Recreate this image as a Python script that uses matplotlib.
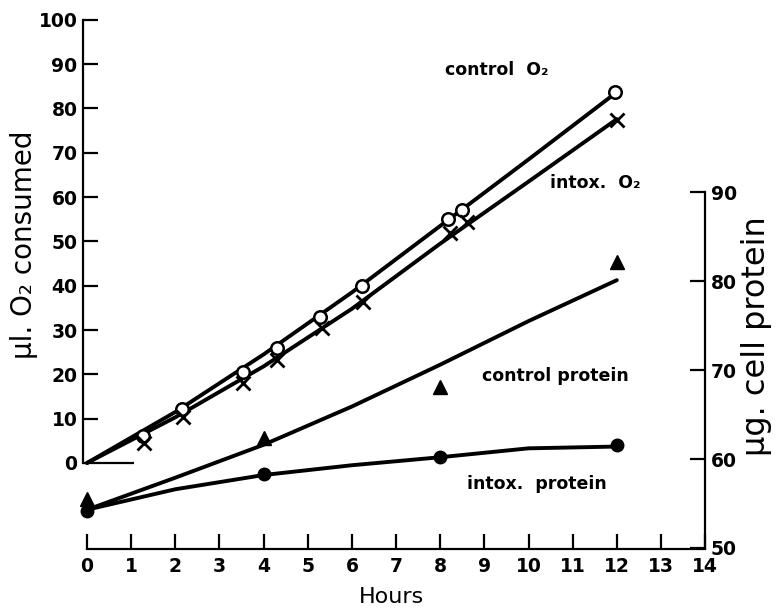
import numpy as np
import matplotlib.pyplot as plt

# O2 uptake (hours, ul O2)
ctrl_o2_hours = [1.27, 2.15, 3.53, 4.3, 5.28, 6.23, 8.18, 8.5, 11.96]
ctrl_o2 = [6.1, 12.2, 20.5, 26.0, 33.0, 40.0, 55.0, 57.1, 83.7]
intox_o2_hours = [1.29, 2.17, 3.53, 4.3, 5.32, 6.25, 8.22, 8.6, 12.0]
intox_o2 = [4.5, 10.4, 18.0, 23.3, 30.5, 36.3, 52.0, 54.4, 77.4]

# drawn curves through the O2 points
o2_line_hours = [0, 2, 4, 6, 8, 10, 12]
ctrl_o2_line = [0, 11.5, 24.5, 38.5, 53.5, 68.5, 83.7]
intox_o2_line = [0, 10.3, 21.8, 34.8, 49.5, 63.5, 77.6]

# cell protein (ug)
prot_hours = [0, 4, 8, 12]
ctrl_prot = [55.5, 62.4, 68.1, 82.1]
intox_prot = [54.2, 58.3, 60.2, 61.6]
prot_line_hours = [0, 2, 4, 6, 8, 10, 12]
ctrl_prot_line = [54.3, 57.9, 61.6, 65.9, 70.6, 75.5, 80.1]
intox_prot_line = [54.3, 56.6, 58.2, 59.3, 60.2, 61.2, 61.4]

hour_ticks = np.arange(0, 15)
o2_ticks = np.arange(0, 101, 10)
prot_ticks = np.arange(50, 91, 10)

plt.rcParams['font.family'] = 'DejaVu Sans'
fig = plt.figure(figsize=(7.81, 6.09), dpi=100)
ax = fig.add_axes([60/781, 49/609, 680/781, 545/609])
ax.set_xlim(-0.612, 14.79)
ax.set_ylim(-21.9, 101.1)
ax2 = ax.twinx()
ax2.set_ylim(48.65, 109.9)

lw = 2.8
ax.plot(o2_line_hours, ctrl_o2_line, color='k', lw=lw, solid_capstyle='round')
ax.plot(o2_line_hours, intox_o2_line, color='k', lw=lw, solid_capstyle='round')
ax.plot(ctrl_o2_hours, ctrl_o2, 'o', ms=9, mfc='white', mec='k', mew=1.8)
ax.plot(intox_o2_hours, intox_o2, 'x', ms=10, mec='k', mew=2.0)

ax2.plot(prot_line_hours, ctrl_prot_line, color='k', lw=lw, solid_capstyle='round')
ax2.plot(prot_line_hours, intox_prot_line, color='k', lw=lw, solid_capstyle='round')
ax2.plot(prot_hours, ctrl_prot, '^', ms=10, color='k')
ax2.plot(prot_hours, intox_prot, 'o', ms=9, color='k')

# axes styling
for s in ['top', 'right']:
    ax.spines[s].set_visible(False)
for s in ['top', 'left', 'bottom']:
    ax2.spines[s].set_visible(False)
ax.spines['left'].set_position(('data', -0.09))
ax.spines['left'].set_bounds(0, 100)
ax.spines['bottom'].set_position(('data', -19.4))
ax.spines['bottom'].set_bounds(0, 14)
ax2.spines['right'].set_position(('data', 14))
ax2.spines['right'].set_bounds(50, 90)
for sp in [ax.spines['left'], ax.spines['bottom'], ax2.spines['right']]:
    sp.set_linewidth(1.6)

ax.set_xticks(hour_ticks)
ax.set_yticks(o2_ticks)
ax2.set_yticks(prot_ticks)
tick_font = dict(fontsize=13.5, fontweight='bold')
ax.set_xticklabels([str(h) for h in hour_ticks], **tick_font)
ax.set_yticklabels([str(v) for v in o2_ticks], **tick_font)
ax2.set_yticklabels([str(v) for v in prot_ticks], **tick_font)
ax.tick_params(axis='x', direction='in', length=11, width=1.6, pad=6)
ax.tick_params(axis='y', direction='in', length=11, width=1.6, pad=4)
ax2.tick_params(axis='y', direction='in', length=11, width=1.6, pad=4)
ax.yaxis.get_major_ticks()[0].tick1line.set_markersize(37)

ax.set_xlabel('Hours', fontsize=16)
ax.xaxis.set_label_coords(0.488, -0.05)
ax.set_ylabel('µl. O₂ consumed', fontsize=20, va='center')
ax.yaxis.set_label_coords(-0.053, 0.578)
ax2.set_ylabel('µg. cell protein', fontsize=23, va='center', rotation=90)
ax2.yaxis.set_label_coords(1.024, 0.41)

ann = dict(fontsize=12.5, fontweight='bold', va='center', ha='left')
ax.text(8.11, 88.7, 'control  O₂', **ann)
ax.text(10.49, 63.2, 'intox.  O₂', **ann)
ax2.text(8.95, 69.3, 'control protein', **ann)
ax2.text(8.61, 57.2, 'intox.  protein', **ann)

fig.savefig('out.png', dpi=100)
